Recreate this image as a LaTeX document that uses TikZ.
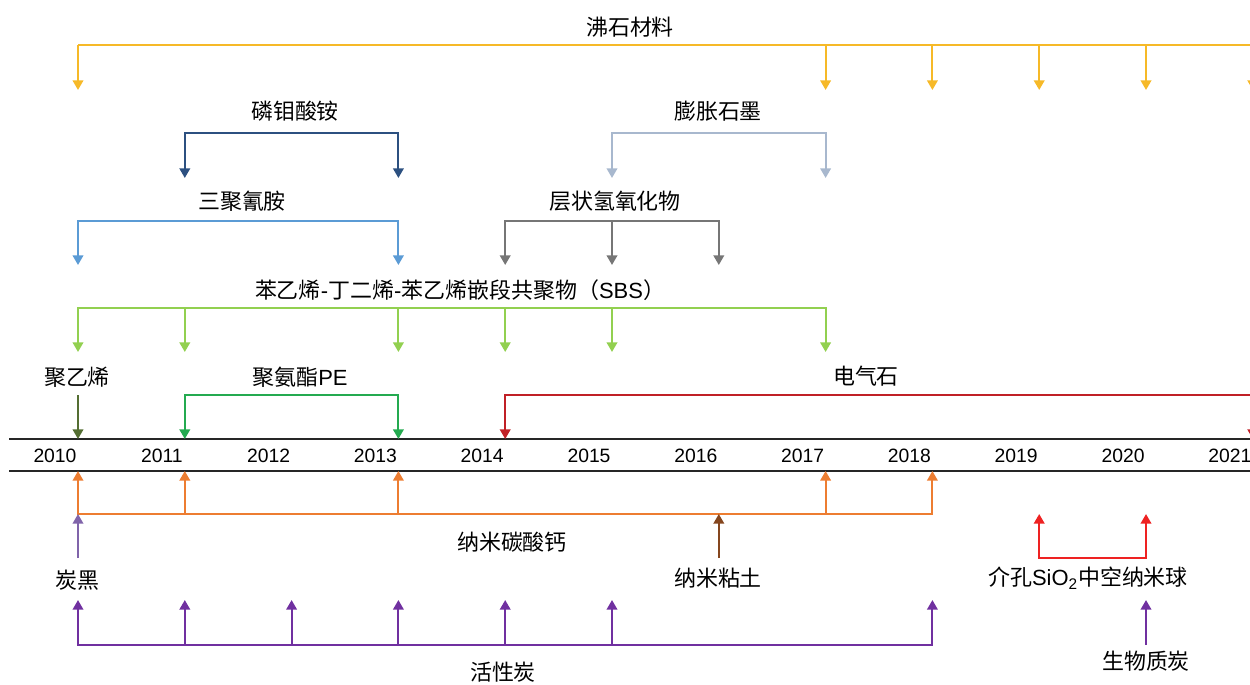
\documentclass[tikz,border=0pt]{standalone}
\usepackage{fontspec}
\setmainfont{Liberation Sans}
\newfontfamily\cjk{Noto Sans CJK SC}
\usetikzlibrary{arrows.meta}

\definecolor{zeoc}{RGB}{246,185,40}
\definecolor{ammc}{RGB}{44,80,128}
\definecolor{grac}{RGB}{168,184,206}
\definecolor{melc}{RGB}{91,155,213}
\definecolor{ldhc}{RGB}{118,118,118}
\definecolor{sbsc}{RGB}{146,208,80}
\definecolor{pec}{RGB}{84,110,50}
\definecolor{puc}{RGB}{36,170,80}
\definecolor{tourc}{RGB}{192,32,38}
\definecolor{cacc}{RGB}{237,125,49}
\definecolor{clayc}{RGB}{133,70,30}
\definecolor{cbc}{RGB}{128,100,170}
\definecolor{acc}{RGB}{112,48,160}
\definecolor{sioc}{RGB}{238,34,34}

\tikzset{
  barline/.style={line width=1.2pt},
  arr/.style={barline,-{Triangle[length=5.5pt,width=6pt]}},
  twoarr/.style={barline,{Triangle[length=5.5pt,width=6pt]}-{Triangle[length=5.5pt,width=6pt]}},
  lbl/.style={font=\cjk\fontsize{12.5}{14}\selectfont,inner sep=1pt},
  yearlbl/.style={font=\fontsize{11}{13}\selectfont,inner sep=1pt},
  axisline/.style={line width=1.5pt,black!85},
}

\begin{document}
\begin{tikzpicture}[x=0.02cm,y=-0.02cm]
  \useasboundingbox (0,0) rectangle (1250,684);

  % time axis
  \draw[axisline] (9,439) -- (1260,439);
  \draw[axisline] (9,471) -- (1260,471);
  \foreach \yr [count=\i from 0] in {2010,...,2021} {
    \coordinate (a\yr) at ({78+106.8*\i},439);
    \coordinate (b\yr) at ({78+106.8*\i},471);
    \node[yearlbl] (y\yr) at ({55+106.8*\i},456) {\yr};
  }

  % levels above the axis
  \coordinate (r1 bar) at (0,45);
  \coordinate (r1 end) at (0,90);
  \coordinate (r2 bar) at (0,133);
  \coordinate (r2 end) at (0,178);
  \coordinate (r3 bar) at (0,221);
  \coordinate (r3 end) at (0,265);
  \coordinate (r4 bar) at (0,308);
  \coordinate (r4 end) at (0,352);
  \coordinate (r5 bar) at (0,395);
  % levels below the axis
  \coordinate (r6 bar) at (0,514);
  \coordinate (r6 end) at (0,558);
  \coordinate (r7 bar) at (0,600);
  \coordinate (r7 end) at (0,645);

  % zeolite
  \node[lbl] (zeo) at (630,27) {沸石材料};
  \draw[barline,zeoc] (a2010 |- r1 bar) -- (1260,45);
  \foreach \yr in {2010,2017,2018,2019,2020,2021}
    \draw[arr,zeoc] (a\yr |- r1 bar) -- (a\yr |- r1 end);

  \node[lbl] (amm) at (295,111) {磷钼酸铵};
  \draw[twoarr,ammc] (a2011 |- r2 end) -- (a2011 |- r2 bar) -- (a2013 |- r2 bar) -- (a2013 |- r2 end);
  \node[lbl] (gra) at (718,111) {膨胀石墨};
  \draw[twoarr,grac] (a2015 |- r2 end) -- (a2015 |- r2 bar) -- (a2017 |- r2 bar) -- (a2017 |- r2 end);

  \node[lbl] (mel) at (242,201) {三聚氰胺};
  \draw[twoarr,melc] (a2010 |- r3 end) -- (a2010 |- r3 bar) -- (a2013 |- r3 bar) -- (a2013 |- r3 end);
  \node[lbl] (ldh) at (615,201) {层状氢氧化物};
  \draw[twoarr,ldhc] (a2014 |- r3 end) -- (a2014 |- r3 bar) -- (a2016 |- r3 bar) -- (a2016 |- r3 end);
  \draw[arr,ldhc] (a2015 |- r3 bar) -- (a2015 |- r3 end);

  % SBS
  \node[lbl] (sbs) at (460,290) {苯乙烯{\rmfamily -}丁二烯{\rmfamily -}苯乙烯嵌段共聚物（{\rmfamily SBS}）};
  \draw[twoarr,sbsc] (a2010 |- r4 end) -- (a2010 |- r4 bar) -- (a2017 |- r4 bar) -- (a2017 |- r4 end);
  \foreach \yr in {2011,2013,2014,2015}
    \draw[arr,sbsc] (a\yr |- r4 bar) -- (a\yr |- r4 end);

  \node[lbl] (pe) at (77,377) {聚乙烯};
  \draw[arr,pec] (a2010 |- r5 bar) -- (a2010);
  \node[lbl] (pu) at (300,377) {聚氨酯{\rmfamily PE}};
  \draw[twoarr,puc] (a2011) -- (a2011 |- r5 bar) -- (a2013 |- r5 bar) -- (a2013);
  \node[lbl] (tour) at (866,376) {电气石};
  \draw[arr,tourc] (1260,395) -- (a2014 |- r5 bar) -- (a2014);
  \draw[arr,tourc] (a2021 |- r5 bar) -- (a2021);

  % below the axis
  \node[lbl] (cac) at (512,542) {纳米碳酸钙};
  \draw[twoarr,cacc] (b2010) -- (b2010 |- r6 bar) -- (b2018 |- r6 bar) -- (b2018);
  \foreach \yr in {2011,2013,2017}
    \draw[arr,cacc] (b\yr |- r6 bar) -- (b\yr);

  \node[lbl] (clay) at (718,578) {纳米粘土};
  \draw[arr,clayc] (b2016 |- r6 end) -- (b2016 |- r6 bar);
  \node[lbl] (cb) at (77,580) {炭黑};
  \draw[arr,cbc] (b2010 |- r6 end) -- (b2010 |- r6 bar);

  \node[lbl] (sio) at (1088,578) {介孔{\rmfamily SiO\textsubscript{2}}中空纳米球};
  \draw[twoarr,sioc] (b2019 |- r6 bar) -- (b2019 |- r6 end) -- (b2020 |- r6 end) -- (b2020 |- r6 bar);

  \node[lbl] (ac) at (503,672) {活性炭};
  \draw[twoarr,acc] (b2010 |- r7 bar) -- (b2010 |- r7 end) -- (b2018 |- r7 end) -- (b2018 |- r7 bar);
  \foreach \yr in {2011,2012,2013,2014,2015}
    \draw[arr,acc] (b\yr |- r7 end) -- (b\yr |- r7 bar);

  \node[lbl] (bio) at (1146,661) {生物质炭};
  \draw[arr,acc] (b2020 |- r7 end) -- (b2020 |- r7 bar);
\end{tikzpicture}
\end{document}
